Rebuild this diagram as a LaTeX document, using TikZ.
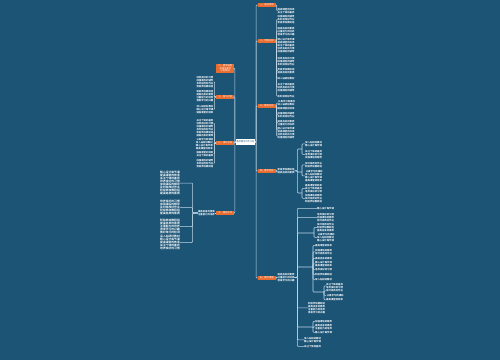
\documentclass[tikz,border=0pt]{standalone}
\usepackage{fontspec}
\newfontfamily\cjk{Noto Sans CJK SC}[BoldFont={Noto Sans CJK SC Bold}]
\definecolor{bgc}{RGB}{28,84,118}
\definecolor{orc}{RGB}{232,108,48}
\definecolor{lnc}{RGB}{190,216,232}
\newcount\lk
\newcount\seedc
\newcommand\lnx[1]{\ifcase#1 认真学习新课标\or 深入钻研好教材\or 精心设计每节课\or 提高课堂的效率\or 关注个体的差异\or 培养良好的习惯\or 加强课后的辅导\or 及时批改好作业\or 积极参加教研组\or 提高自身的素质\or 注重能力的培养\or 激发学习的兴趣\or 做好单元的检测\or 加强家校的联系\or 优化教学的方法\or 落实教学的常规\or 开展课外的活动\or 及时总结与反思\or 提高综合的素质\or 完成教学的任务\fi}
\newcommand\blk[1]{\global\advance\seedc by 3 \ifnum\seedc>9 \global\advance\seedc by -10 \fi\vbox{\lk=0 \loop\ifnum\lk<#1 \hbox{\lnx{\numexpr\lk+\seedc\relax}}\advance\lk by 1 \repeat}}
\tikzset{
  leaf/.style={inner sep=0pt, text=white, font=\cjk\bfseries\fontsize{2.4}{3}\selectfont},
  leafw/.style={leaf, font=\cjk\bfseries\fontsize{2.8}{3}\selectfont},
  obox/.style={fill=orc, text=white, inner sep=0pt, minimum width=18pt, minimum height=3.4pt, font=\cjk\fontsize{2.3}{2.6}\selectfont},
  conn/.style={draw=lnc, line width=0.55pt, rounded corners=0.8pt},
}
\begin{document}
\begin{tikzpicture}[x=1pt,y=-1pt]
\fill[bgc] (0,0) rectangle (500,360);
\useasboundingbox (0,0) rectangle (500,360);
% centre
\node[fill=white, text=bgc, inner sep=0pt, minimum width=19pt, minimum height=6pt, font=\cjk\fontsize{2.2}{2.6}\selectfont] (ctr) at (245.5,142) {数学教学工作计划};
% right main branches
\node[obox, anchor=west] (R1) at (257.5,5) {一、指导思想};
\node[obox, anchor=west] (R2) at (257.5,41) {二、学情分析};
\node[obox, anchor=west] (R3) at (257.5,106) {三、教材分析};
\node[obox, anchor=west] (R4) at (257.5,171) {四、教学目标};
\node[obox, anchor=west] (R5) at (257.5,278) {五、教学措施};
% left main branches
\node[obox, anchor=east, minimum height=9.5pt, align=center] (L1) at (234.5,68.5) {六、教学进度\\安排与课时\\分配情况};
\node[obox, anchor=east] (L2) at (234.5,97) {七、复习计划};
\node[obox, anchor=east] (L3) at (234.5,143) {八、课外活动};
\node[obox, anchor=east] (L4) at (234.5,213) {九、教研工作};
\foreach \n in {R1,R2,R3,R4,R5} \draw[conn] (ctr.east) -- ++(1,0) |- (\n.west);
\foreach \n in {L1,L2,L3,L4} \draw[conn] (ctr.west) -- ++(-1,0) |- (\n.east);
% R1
\node[leaf, anchor=north west] (r11) at (277.5,8) {\blk{2}};
\draw[conn] (R1.east) -- ++(0.8,0) |- (r11.west);
% R2
\node[leaf, anchor=north west] (r21) at (277.5,15) {\blk{3}};
\node[leaf, anchor=north west] (r22) at (277.5,27) {\blk{3}};
\node[leaf, anchor=north west] (r23) at (277.5,38) {\blk{5}};
\node[leaf, anchor=north west] (r24) at (277.5,57) {\blk{3}};
\node[leaf, anchor=north west] (r25) at (277.5,68) {\blk{2}};
\node[leaf, anchor=north west] (r26) at (277.5,77) {\blk{1}};
\node[leaf, anchor=north west] (r27) at (277.5,83) {\blk{3}};
\node[leaf, anchor=north west] (r28) at (277.5,95) {\blk{1}};
\foreach \c in {r21,r22,r23,r24,r25,r26,r27,r28} \draw[conn] (R2.east) -- ++(0.8,0) |- (\c.west);
% R3
\node[leaf, anchor=north west] (r31) at (277.5,100) {\blk{2}};
\node[leaf, anchor=north west] (r32) at (277.5,107) {\blk{1}};
\node[leaf, anchor=north west] (r33) at (277.5,112) {\blk{2}};
\node[leaf, anchor=north west] (r34) at (277.5,120) {\blk{2}};
\node[leaf, anchor=north west] (r35) at (277.5,127) {\blk{2}};
\node[leaf, anchor=north west] (r36) at (277.5,133.5) {\blk{2}};
\foreach \c in {r31,r32,r33,r34,r35,r36} \draw[conn] (R3.east) -- ++(0.8,0) |- (\c.west);
% R4
\node[leaf, anchor=north west] (T4) at (277.5,168) {\blk{2}};
\draw[conn] (R4.east) -- ++(0.8,0) |- (T4.west);
\coordinate (g41) at (302,149);
\coordinate (g42) at (302,172);
\coordinate (g43) at (302,193);
\foreach \g in {g41,g42,g43} \draw[conn] (T4.east) -- ++(2.7,0) |- (\g);
\node[leaf, anchor=north west] (a41) at (305,141) {\blk{2}};
\node[leaf, anchor=north west] (a42) at (305,150) {\blk{3}};
\node[leaf, anchor=north west] (a43) at (305,162) {\blk{2}};
\node[leaf, anchor=north west] (a44) at (305,170) {\blk{4}};
\node[leaf, anchor=north west] (a45) at (305,184) {\blk{3}};
\node[leaf, anchor=north west] (a46) at (305,194) {\blk{3}};
\draw[conn] (g41) |- (a41.west);
\draw[conn] (g41) |- (a42.west);
\draw[conn] (g42) |- (a43.west);
\draw[conn] (g42) |- (a44.west);
\draw[conn] (g43) |- (a45.west);
\draw[conn] (g43) |- (a46.west);
% R5
\node[leaf, anchor=north west] (T5) at (277.5,273) {\blk{3}};
\draw[conn] (R5.east) -- ++(0.8,0) |- (T5.west);
\node[leaf, anchor=north west] (b1) at (317,207) {\blk{1}};
\node[leaf, anchor=north west] (b2) at (317,213) {\blk{3}};
\node[leaf, anchor=north west] (b5) at (308,302) {\blk{4}};
\node[leaf, anchor=north west] (b7) at (304,337) {\blk{2}};
\node[leaf, anchor=north west] (b8) at (304,345) {\blk{1}};
\foreach \c in {b1,b2,b5,b7,b8} \draw[conn] (T5.east) -- ++(2.7,0) |- (\c.west);
\coordinate (g53) at (314,233);
\coordinate (g54) at (313,267);
\coordinate (g56) at (313,327);
\coordinate (g55) at (324,292);
\foreach \g in {g53,g54,g56} \draw[conn] (T5.east) -- ++(2.7,0) |- (\g);
\node[leaf, anchor=north west] (b31) at (317,223) {\blk{3}};
\node[leaf, anchor=north west] (b32) at (317,233) {\blk{3}};
\draw[conn] (g53) |- (b31.west);
\draw[conn] (g53) |- (b32.west);
\node[leaf, anchor=north west] (b41) at (315,244) {\blk{1}};
\node[leaf, anchor=north west] (b42) at (315,249) {\blk{2}};
\node[leaf, anchor=north west] (b43) at (315,257) {\blk{1}};
\node[leaf, anchor=north west] (b44) at (315,261) {\blk{2}};
\node[leaf, anchor=north west] (b45) at (315,268) {\blk{1}};
\node[leaf, anchor=north west] (b46) at (315,273) {\blk{1}};
\node[leaf, anchor=north west] (b47) at (315,278) {\blk{1}};
\foreach \c in {b41,b42,b43,b44,b45,b46,b47} \draw[conn] (g54) |- (\c.west);
\draw[conn] (g54) |- (g55);
\node[leaf, anchor=north west] (c1) at (326,283) {\blk{2}};
\node[leaf, anchor=north west] (c2) at (326,289.5) {\blk{1}};
\node[leaf, anchor=north west] (c3) at (326,294) {\blk{1}};
\node[leaf, anchor=north west] (c4) at (326,298.5) {\blk{1}};
\foreach \c in {c1,c2,c3,c4} \draw[conn] (g55) |- (\c.west);
\node[leaf, anchor=north west] (b61) at (315,320) {\blk{1}};
\node[leaf, anchor=north west] (b62) at (315,324) {\blk{2}};
\node[leaf, anchor=north west] (b63) at (315,331) {\blk{1}};
\foreach \c in {b61,b62,b63} \draw[conn] (g56) |- (\c.west);
% L2
\node[leaf, anchor=north east] (l21) at (213.5,76) {\blk{4}};
\node[leaf, anchor=north east] (l22) at (213.5,90) {\blk{4}};
\node[leaf, anchor=north east] (l23) at (213.5,105) {\blk{3}};
\foreach \c in {l21,l22,l23} \draw[conn] (L2.west) -- ++(-1.5,0) |- (\c.east);
% L3
\node[leaf, anchor=north east] (l31) at (213.5,119) {\blk{3}};
\node[leaf, anchor=north east] (l32) at (213.5,128) {\blk{3}};
\node[leaf, anchor=north east] (l33) at (213.5,138) {\blk{4}};
\node[leaf, anchor=north east] (l34) at (213.5,151) {\blk{2}};
\node[leaf, anchor=north east] (l35) at (213.5,159) {\blk{3}};
\foreach \c in {l31,l32,l33,l34,l35} \draw[conn] (L3.west) -- ++(-1.5,0) |- (\c.east);
% L4
\node[leaf, anchor=east] (T4L) at (215,213) {\blk{2}};
\draw[conn] (L4.west) -- (T4L.east);
\node[leafw, anchor=north east] (m1) at (180,171) {\blk{8}};
\node[leafw, anchor=north east] (m2) at (180,200) {\blk{5}};
\node[leafw, anchor=north east] (m3) at (180,219) {\blk{5}};
\node[leafw, anchor=north east] (m4) at (180,235) {\blk{5}};
\foreach \c in {m1,m2,m3,m4} \draw[conn] (T4L.west) -- ++(-5.2,0) |- (\c.east);
\end{tikzpicture}
\end{document}
